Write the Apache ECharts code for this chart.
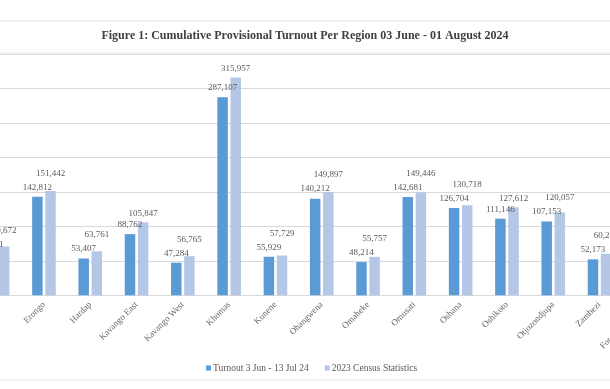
<!DOCTYPE html>
<html>
<head>
<meta charset="utf-8">
<script src="https://cdn.jsdelivr.net/npm/echarts@6/dist/echarts.min.js"></script>
<style>html,body{margin:0;padding:0;background:#fff}#c{width:610px;height:389px}</style>
</head>
<body>
<div id="c"></div>
<script>
const categories = ['//Kharas','Erongo','Hardap','Kavango East','Kavango West','Khomas','Kunene','Ohangwena','Omaheke','Omusati','Oshana','Oshikoto','Otjozondjupa','Zambezi','Foreign Missions'];
const turnout = [59301,142812,53407,88762,47284,287107,55929,140212,48214,142681,126704,111146,107153,52173,null];
const census = [70672,151442,63761,105847,56765,315957,57729,149897,55757,149446,130718,127612,120057,60245,null];
const seriesNames = ['Turnout 3 Jun - 13 Jul 24','2023 Census Statistics'];
const titleText = 'Figure 1: Cumulative Provisional Turnout Per Region 03 June - 01 August 2024';

const serif = 'Liberation Serif';
const chart = echarts.init(document.getElementById('c'));
const fmt = p => p.value == null ? '' : p.value.toLocaleString('en-US');
const labelStyle = {fontFamily: serif, fontSize: 9, lineHeight: 10, color: '#595959'};
const option = {
  animation: false,
  title: {
    text: titleText, left: 'center', top: 25,
    textStyle: {fontFamily: serif, fontSize: 12, fontWeight: 'bold', color: '#404040'}
  },
  legend: {
    left: 201, top: 358, itemWidth: 5, itemHeight: 5, itemGap: 16, icon: 'rect',
    textStyle: {fontFamily: serif, fontSize: 9.5, color: '#595959', padding: [0,0,0,-3]}
  },
  grid: {left: -25.5, right: -59, top: 54, bottom: 93.7, containLabel: false, outerBoundsMode: 'none'},
  xAxis: {
    type: 'category', data: categories,
    axisLine: {lineStyle: {color: '#d9d9d9'}}, axisTick: {show: false},
    axisLabel: {rotate: 45, margin: 8, interval: 0, fontFamily: serif, fontSize: 9, color: '#666666'}
  },
  yAxis: {
    type: 'value', min: 0, max: 350000, interval: 50000,
    axisLabel: {show: false}, axisLine: {show: false}, axisTick: {show: false},
    splitLine: {lineStyle: {color: '#d9d9d9'}}
  },
  series: [
    {name: seriesNames[0], type: 'bar', data: turnout, barWidth: 10.5, barGap: '25%',
     itemStyle: {color: '#5b9bd5'},
     label: Object.assign({show: true, position: 'top', distance: 4.5, formatter: fmt}, labelStyle)},
    {name: seriesNames[1], type: 'bar', data: census, barWidth: 10.5,
     itemStyle: {color: '#b4c7e7'},
     label: Object.assign({show: true, position: 'top', distance: 3.5, formatter: fmt}, labelStyle)}
  ],
  graphic: [
    {type: 'line', shape: {x1: 0, y1: 21, x2: 610, y2: 21}, style: {stroke: '#e6e6e6', lineWidth: 1}},
    {type: 'line', shape: {x1: 0, y1: 53, x2: 610, y2: 53}, style: {stroke: '#e6e6e6', lineWidth: 1}},
    {type: 'line', shape: {x1: 0, y1: 380, x2: 610, y2: 380}, style: {stroke: '#e6e6e6', lineWidth: 1}}
  ]
};
chart.setOption(option);

// Avoid overlapping labels: lift the census label above the turnout label when they collide
const censusItems = census.map((v, i) => {
  if (v == null || turnout[i] == null) return v;
  const blueTop = chart.convertToPixel({yAxisIndex: 0}, turnout[i]);
  const lightTop = chart.convertToPixel({yAxisIndex: 0}, v);
  const blueCenter = blueTop - 9.5;
  let lightCenter = lightTop - 8.5;
  if (blueCenter - lightCenter < 10) lightCenter = blueCenter - 14;
  return {value: v, label: {distance: lightTop - lightCenter - 5}};
});
chart.setOption({series: [{}, {data: censusItems}]});
</script>
</body>
</html>
